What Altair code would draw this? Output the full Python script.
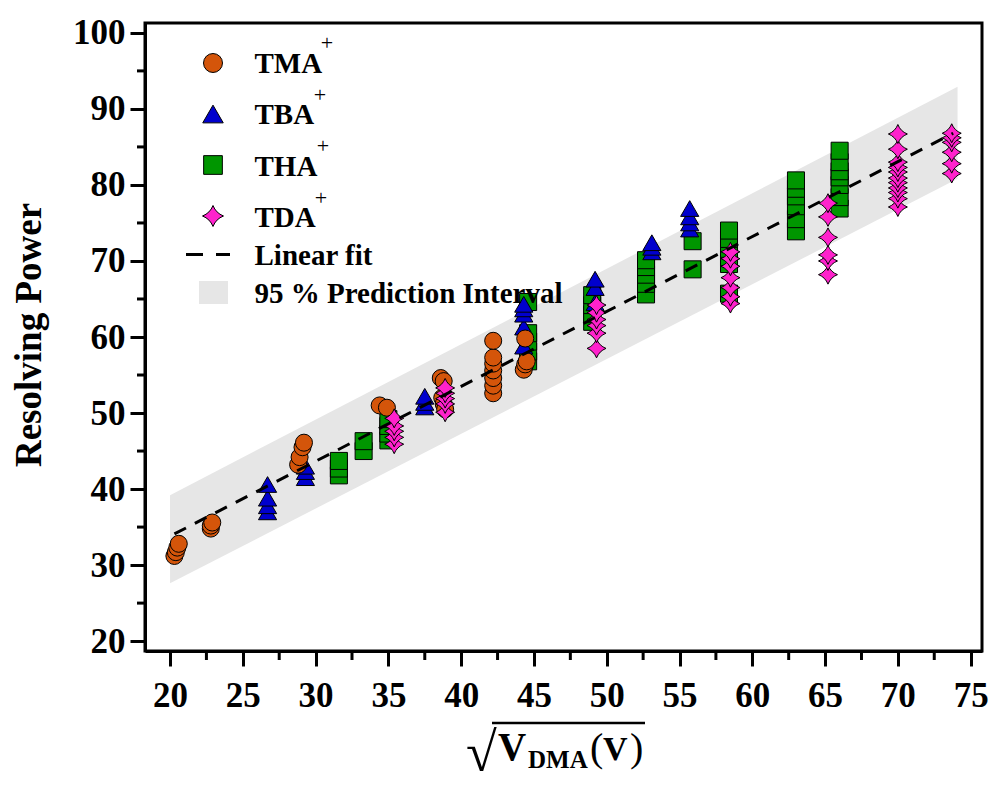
import altair as alt
import pandas as pd

FONT = "Liberation Serif"
W, H = 837, 628

tma_x = [20.3, 20.4, 20.5, 20.6, 22.8, 22.8, 22.9, 28.8, 28.9, 29.1, 29.2,
         34.4, 34.9, 38.6, 38.8, 38.7, 38.8, 38.9,
         42.2, 42.2, 42.2, 42.2, 42.2, 42.2, 42.2, 44.3, 44.4, 44.5, 44.4]
tma_y = [31.2, 31.7, 32.3, 32.8, 34.8, 35.2, 35.6, 43.2, 44.2, 45.5, 46.1,
         51.0, 50.7, 54.6, 54.2, 52.0, 51.2, 50.5,
         52.6, 53.6, 54.6, 55.6, 56.5, 57.3, 59.5, 55.7, 56.4, 56.8, 59.8]

tba_x = [26.7, 26.7, 26.7, 26.7, 29.3, 29.3, 29.3, 37.5, 37.5, 37.5,
         44.3, 44.3, 44.3, 44.3, 44.3, 49.2, 49.2, 49.2, 53.1, 53.1, 53.1,
         55.7, 55.7, 55.7, 55.7]
tba_y = [37.0, 37.8, 38.8, 40.6, 41.5, 42.3, 43.0, 50.8, 51.4, 52.2,
         58.8, 61.3, 63.0, 63.7, 64.3, 64.5, 66.5, 67.6, 71.2, 71.8, 72.4,
         74.2, 75.0, 75.8, 76.9]

tha_x = [31.6, 31.6, 31.6, 33.3, 33.3, 35.0, 35.0, 35.0, 35.0,
         44.6, 44.6, 44.6, 44.6, 44.6, 49.0, 49.0, 49.0, 49.0,
         52.7, 52.7, 52.7, 52.7, 52.7, 55.9, 55.9,
         58.4, 58.4, 58.4, 58.4, 58.4, 58.4, 63.0, 63.0, 63.0, 63.0, 63.0, 63.0,
         66.0, 66.0, 66.0, 66.0, 66.0, 66.0, 66.0]
tha_y = [41.8, 42.7, 43.7, 45.0, 46.3, 46.4, 47.3, 48.3, 49.2,
         56.8, 58.1, 59.4, 60.5, 64.6, 62.0, 63.0, 64.2, 65.5,
         65.6, 67.0, 68.2, 69.2, 70.1, 68.9, 72.6,
         65.7, 69.6, 70.5, 71.6, 72.9, 74.0, 73.9, 75.5, 77.2, 78.5, 79.5, 80.6,
         76.9, 78.4, 80.0, 81.0, 81.8, 83.0, 84.5]

tda_x = [35.4, 35.4, 35.4, 35.4, 35.4, 38.9, 38.9, 38.9, 38.9, 38.9,
         49.3, 49.3, 49.3, 49.3, 49.3, 49.3,
         58.5, 58.5, 58.5, 58.5, 58.5, 58.5, 58.5,
         65.2, 65.2, 65.2, 65.2, 65.2, 65.2,
         70.0, 70.0, 70.0, 70.0, 70.0, 70.0, 70.0, 70.0, 70.0, 70.0, 70.0,
         73.7, 73.7, 73.7, 73.7, 73.7, 73.7]
tda_y = [45.9, 46.8, 47.6, 48.3, 49.3, 50.1, 51.2, 51.9, 52.6, 53.3,
         58.5, 60.5, 61.5, 62.3, 63.2, 64.2,
         64.4, 65.3, 66.5, 67.8, 69.3, 70.3, 71.2,
         68.2, 70.0, 70.8, 73.1, 75.8, 77.6,
         77.1, 78.2, 79.0, 79.6, 80.3, 80.9, 81.7, 82.3, 83.0, 84.7, 86.7,
         81.5, 82.8, 84.3, 85.6, 86.2, 86.8]

fit_x = [20.3, 73.8]
fit_y = [34.1, 86.8]
band_x = [20.0, 74.1]
band_lo = [27.6, 80.8]
band_hi = [39.2, 92.9]

x_ticks = [20, 25, 30, 35, 40, 45, 50, 55, 60, 65, 70, 75]
x_minor = [22.5, 27.5, 32.5, 37.5, 42.5, 47.5, 52.5, 57.5, 62.5, 67.5, 72.5]
y_ticks = [20, 30, 40, 50, 60, 70, 80, 90, 100]
y_minor = [25, 35, 45, 55, 65, 75, 85, 95]

STAR = "M0,-1 Q0.28,-0.28 1,0 Q0.28,0.28 0,1 Q-0.28,0.28 -1,0 Q-0.28,-0.28 0,-1 Z"

ORANGE, BLUE, GREEN, PINK = "#d4550a", "#0000cd", "#009600", "#ff22cc"

x_scale = alt.Scale(domain=[18.28, 75.78], nice=False, zero=False)
y_scale = alt.Scale(domain=[18.7, 101.3], nice=False, zero=False)


def axis(values, pad):
    return alt.Axis(
        values=values, grid=False, title=None,
        tickSize=15, tickWidth=3, tickColor="black",
        domainColor="black", domainWidth=3,
        labelFont=FONT, labelFontSize=35, labelFontWeight="bold",
        labelColor="black", labelPadding=pad,
        labelFlush=False, labelOverlap=False,
    )


x_axis = axis(x_ticks, 12)
y_axis = axis(y_ticks, 5)


def X(field):
    return alt.X(field, type="quantitative", scale=x_scale, axis=x_axis)


def Y(field):
    return alt.Y(field, type="quantitative", scale=y_scale, axis=y_axis)


band = alt.Chart(pd.DataFrame({"x": band_x, "lo": band_lo, "hi": band_hi})).mark_area(
    color="#e6e6e6", opacity=1
).encode(x=X("x"), y=Y("lo"), y2="hi")

fit = alt.Chart(pd.DataFrame({"x": fit_x, "y": fit_y})).mark_line(
    color="black", strokeWidth=3, strokeDash=[13, 10]
).encode(x=X("x"), y=Y("y"))


def series(xs, ys, shape, color, size):
    return alt.Chart(pd.DataFrame({"x": xs, "y": ys})).mark_point(
        shape=shape, filled=True, fill=color, stroke="black",
        strokeWidth=1, size=size, opacity=1
    ).encode(x=X("x"), y=Y("y"))


tha = series(tha_x, tha_y, "square", GREEN, 290)
tba = series(tba_x, tba_y, "triangle-up", BLUE, 330)
tma = series(tma_x, tma_y, "circle", ORANGE, 290)
tda = series(tda_x, tda_y, STAR, PINK, 360)

minor_x = alt.Chart(pd.DataFrame({"v": x_minor})).mark_rule(
    color="black", strokeWidth=3
).encode(x=X("v"), y=alt.value(H), y2=alt.value(H + 9))
minor_y = alt.Chart(pd.DataFrame({"v": y_minor})).mark_rule(
    color="black", strokeWidth=3
).encode(y=Y("v"), x=alt.value(-8), x2=alt.value(0))


def label(text, x, y, size, weight="bold", align="left", angle=0):
    return alt.Chart(pd.DataFrame({"t": [text]})).mark_text(
        font=FONT, fontSize=size, fontWeight=weight, color="black",
        align=align, baseline="alphabetic", angle=angle
    ).encode(text="t:N", x=alt.value(x), y=alt.value(y))


def key(shape, color, y, size):
    return alt.Chart(pd.DataFrame({"k": [0]})).mark_point(
        shape=shape, filled=True, fill=color, stroke="black",
        strokeWidth=1, size=size, opacity=1
    ).encode(x=alt.value(68), y=alt.value(y))


legend = [
    key("circle", ORANGE, 40, 360),
    key("triangle-up", BLUE, 91, 420),
    key("square", GREEN, 142, 350),
    key(STAR, PINK, 193, 440),
    alt.Chart(pd.DataFrame({"k": [0]})).mark_rule(
        color="black", strokeWidth=3, strokeDash=[17, 13]
    ).encode(x=alt.value(41), x2=alt.value(85), y=alt.value(231.5)),
    alt.Chart(pd.DataFrame({"k": [0]})).mark_rect(color="#e6e6e6").encode(
        x=alt.value(54), x2=alt.value(83), y=alt.value(258), y2=alt.value(281)
    ),
    label("TMA", 109.5, 50, 29),
    label("TBA", 109.5, 101, 29),
    label("THA", 109.5, 153, 29),
    label("TDA", 109.5, 204, 29),
    label("Linear fit", 109.5, 242, 29),
    label("95 % Prediction Interval", 109.5, 280, 29),
    label("+", 182, 27, 22, "normal", "center"),
    label("+", 175, 79, 22, "normal", "center"),
    label("+", 178, 130, 22, "normal", "center"),
    label("+", 176, 182, 22, "normal", "center"),
]

titles = [
    label("Resolving Power", -104, 312, 37, angle=270, align="center"),
    label("\u221a", 321, 748, 56, "normal"),
    alt.Chart(pd.DataFrame({"k": [0]})).mark_rule(color="black", strokeWidth=2.5).encode(
        x=alt.value(347), x2=alt.value(500), y=alt.value(700)
    ),
    label("V", 353, 737, 39),
    label("DMA", 383, 745, 25),
    label("(", 445, 738, 40, "normal"),
    label("V", 458, 737, 34),
    label(")", 485, 738, 40, "normal"),
]

chart = (
    alt.layer(band, tha, tba, tma, tda, fit, minor_x, minor_y, *legend, *titles)
    .properties(
        width=W,
        height=H,
        autosize=alt.AutoSizeParams(type="none"),
        padding={"left": 137, "top": 15, "right": 10, "bottom": 120},
    )
    .configure_view(stroke="black", strokeWidth=3)
)

chart.save("out.html", embed_options={"renderer": "svg", "actions": False})
